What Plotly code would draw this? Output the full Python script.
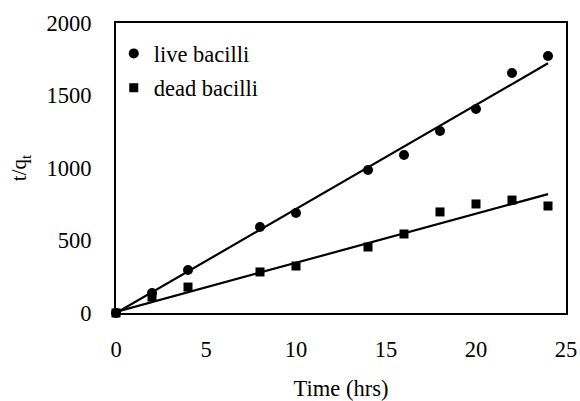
import plotly.graph_objects as go

time_hrs = [0, 2, 4, 8, 10, 14, 16, 18, 20, 22, 24]
live_bacilli = [0, 138, 297, 593, 690, 986, 1090, 1255, 1407, 1655, 1772]
dead_bacilli = [0, 110, 179, 283, 324, 455, 545, 697, 752, 779, 738]
fit_x = [0, 24]
live_fit = [0, 1722]
dead_fit = [8, 820]

FONT = "Liberation Serif, Times New Roman, serif"
FS = 22.5

fig = go.Figure()
fig.add_trace(go.Scatter(x=fit_x, y=live_fit, mode="lines",
                         line=dict(color="black", width=2.2), showlegend=False, hoverinfo="skip"))
fig.add_trace(go.Scatter(x=fit_x, y=dead_fit, mode="lines",
                         line=dict(color="black", width=2.2), showlegend=False, hoverinfo="skip"))
fig.add_trace(go.Scatter(x=time_hrs, y=live_bacilli, mode="markers", name="live bacilli",
                         legendgroup="live",
                         marker=dict(symbol="circle", size=10, color="black"), cliponaxis=False))
fig.add_trace(go.Scatter(x=time_hrs, y=dead_bacilli, mode="markers", name="dead bacilli",
                         legendgroup="dead",
                         marker=dict(symbol="square", size=9, color="black"), cliponaxis=False))

fig.update_layout(
    width=580, height=401,
    margin=dict(l=116, r=14, t=23, b=88),
    paper_bgcolor="white", plot_bgcolor="white",
    font=dict(family=FONT, size=FS, color="black"),
    legend=dict(x=-0.005, y=0.968, xanchor="left", yanchor="top",
                bgcolor="rgba(0,0,0,0)", font=dict(size=FS),
                tracegroupgap=2),
    xaxis=dict(range=[0, 25], tickvals=[0, 5, 10, 15, 20, 25], showgrid=False, zeroline=False,
               showline=True, linecolor="black", linewidth=2, mirror=True, automargin=False,
               ticks="", ticklabelstandoff=15,
               title=dict(text="Time (hrs)", font=dict(size=FS), standoff=33)),
    yaxis=dict(range=[0, 2000], tickvals=[0, 500, 1000, 1500, 2000], showgrid=False, zeroline=False,
               showline=True, linecolor="black", linewidth=2, mirror=True, automargin=False,
               ticks="", ticklabelstandoff=18,
               title=dict(text="t/q<sub>t</sub>", font=dict(size=21), standoff=14)),
)

fig.write_html("out.html")
